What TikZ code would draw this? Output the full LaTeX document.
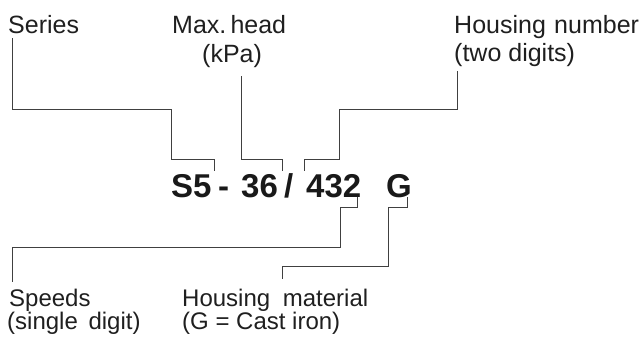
\documentclass[tikz,border=0pt]{standalone}
\usepackage{fontspec}
\setmainfont{Liberation Sans}
\begin{document}
\begin{tikzpicture}[x=1pt,y=-1pt,
  label/.style={inner sep=0pt,anchor=base west,text height=17pt,text depth=4pt,
    font=\fontsize{25}{25}\selectfont,text=black!88},
  lowlabel/.style={label,font=\fontsize{24}{24}\selectfont},
  code/.style={inner sep=0pt,anchor=base west,font=\fontsize{33}{33}\selectfont\bfseries,text=black!90},
  lead/.style={line width=0.9pt,draw=black!75}]
\useasboundingbox (0,0) rectangle (644,338);

% labels above
\node[label] (series) at (8,33) {Series};
\node[label] (maxhead) at (172,33) {Max.\,head};
\node[label] (kpa) at (202,62) {(kPa)};
\node[label] (housnum) at (454,33) {Housing\,\,number};
\node[label] (twodig) at (454,61) {(two digits)};

% labels below
\node[lowlabel] (speeds) at (9,306) {Speeds};
\node[lowlabel] (single) at (7,329) {(single\hspace{4pt} digit)};
\node[lowlabel] (hmat) at (182,306) {Housing\hspace{6pt} material};
\node[lowlabel] (cast) at (182,329) {(G = Cast iron)};

% the type code
\node[code] (cS) at (171,197) {S5};
\node[code] (cdash) at (218,197) {-};
\node[code] (c36) at (241,197) {36};
\node[code] (cslash) at (284,197) {/};
\node[code] (c432) at (306,197) {432};
\node[code] (cG) at (386,197) {G};

% end points of the leaders
\coordinate (pSeries) at (12,38);
\coordinate (pHead) at (241,76);
\coordinate (pHous) at (457,71);
\coordinate (pSpeed) at (12,282);
\coordinate (pMat) at (282,279);

% series
\draw[lead] (pSeries) |- (171,109) -- (171,159) -- (214,159) -- (214,171);
% max. head
\draw[lead] (pHead) -- (241,159) -- (282,159) -- (282,171);
% housing number
\draw[lead] (pHous) |- (339,109) -- (339,159) -- (304,159) -- (304,171);
% speeds
\draw[lead] (357,197) -- (357,207) -- (340,207) -- (340,247) -| (pSpeed);
% housing material
\draw[lead] (407,197) -- (407,207) -- (388,207) -- (388,266) -| (pMat);
\end{tikzpicture}
\end{document}
